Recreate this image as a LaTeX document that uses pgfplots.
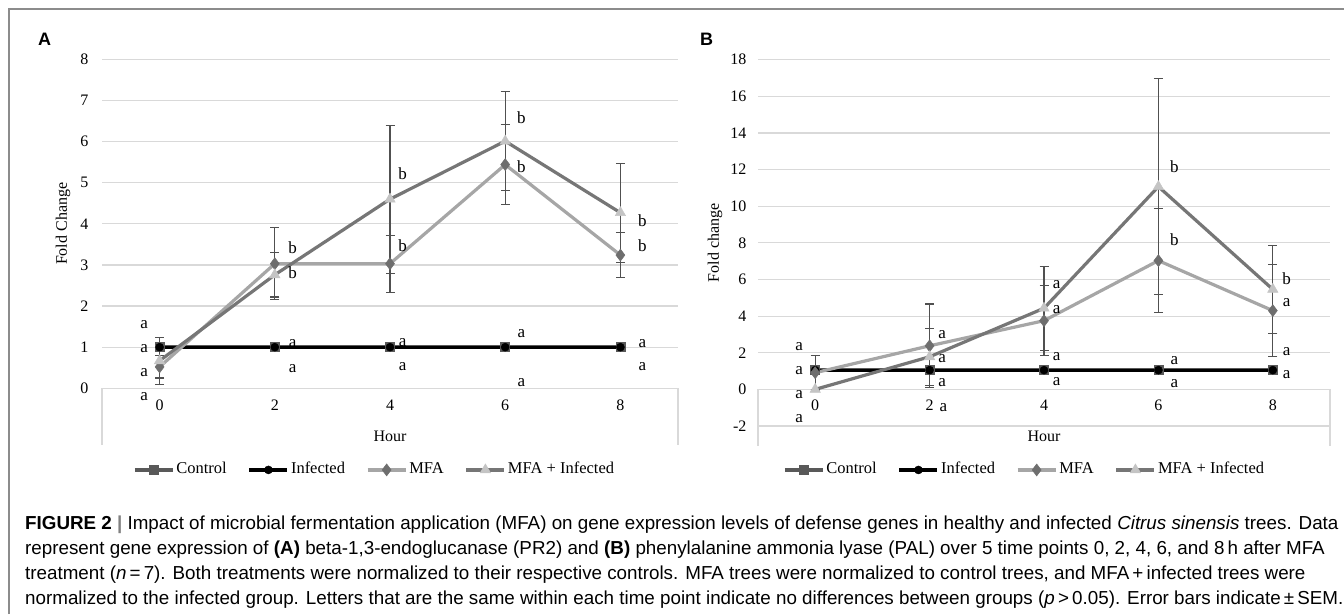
\documentclass[border=0pt]{standalone}
\usepackage{fontspec}
\setmainfont{Liberation Serif}
\newfontfamily\sans{Liberation Sans}
\usepackage{pgfplots}
\pgfplotsset{compat=1.18}

\definecolor{gridc}{HTML}{D9D9D9}
\definecolor{ctrl}{HTML}{595959}
\definecolor{mfaline}{HTML}{A6A6A6}
\definecolor{mfamark}{HTML}{6E6E6E}
\definecolor{mfiline}{HTML}{767676}
\definecolor{mfimark}{HTML}{C4C4C4}
\definecolor{errc}{HTML}{505050}
\definecolor{framec}{HTML}{8C8C8C}

\tikzset{lt/.style={font=\fontsize{17}{17}\selectfont, inner sep=0pt}}

\pgfplotsset{
  legend image code/.code={\draw[mark repeat=2,mark phase=2,#1] plot coordinates {(0pt,0pt) (19pt,0pt) (38pt,0pt)};},
  fc/.style={
    scale only axis, clip=false,
    xmin=-0.5, xmax=4.5, xtick={0,...,4}, xticklabels={0,2,4,6,8},
    axis line style={draw=none}, major tick length=0pt,
    ymajorgrids, grid style={draw=gridc, line width=1.2pt},
    /pgf/number format/assume math mode=true,
    tick label style={font=\fontsize{16}{16}\selectfont},
    label style={font=\fontsize{16}{16}\selectfont},
    legend style={draw=none, fill=none, legend columns=4, font=\fontsize{16.5}{16.5}\selectfont,
      inner sep=0pt, nodes={inner sep=0pt, text height=11pt, text depth=3pt},
      /tikz/every odd column/.append style={column sep=2pt},
      /tikz/every even column/.append style={column sep=21pt}},
  },
  ctrl/.style={draw=ctrl, line width=3.2pt, mark=square*, mark size=4.5pt, mark options={fill=ctrl, draw=ctrl, line width=0.5pt}},
  inf/.style={draw=black, line width=3.2pt, mark=*, mark size=4pt, mark options={fill=black, draw=black, line width=0.5pt}},
  mfa/.style={draw=mfaline, line width=3.2pt, mark=diamond*, mark size=6pt, mark options={fill=mfamark, draw=mfamark, line width=0.5pt}},
  mfi/.style={draw=mfiline, line width=3.2pt, mark=triangle*, mark size=6pt, mark options={fill=mfimark, draw=mfimark, line width=0.5pt}},
  eb/.style={error bars/.cd, y dir=both, y explicit,
    error bar style={draw=errc, line width=1.1pt},
    error mark options={rotate=90, draw=errc, line width=1.1pt, mark size=4.5pt}},
}

\begin{document}
\begin{tikzpicture}[x=1pt,y=1pt]
\useasboundingbox (0,0) rectangle (1344,-614);
\draw[framec, line width=1.3pt] (9,-614) -- (9,-9) -- (1344,-9);

\node[anchor=base west, inner sep=0pt, font=\sans\bfseries\fontsize{18}{18}\selectfont] at (38,-45) {A};
\node[anchor=base west, inner sep=0pt, font=\sans\bfseries\fontsize{18}{18}\selectfont] at (700,-45) {B};

% Panel A: PR2
\begin{axis}[fc, at={(102pt,-388.3pt)}, anchor=south west, width=576pt, height=329pt,
  ymin=0, ymax=8, ytick={0,...,8},
  xticklabel style={yshift=-7.7pt},
  yticklabel style={xshift=-10pt},
  xlabel=Hour, xlabel style={at={(rel axis cs:0.5,-0.147)}, anchor=center},
  ylabel=Fold Change, ylabel style={at={(rel axis cs:-0.0677,0.5)}, anchor=center},
  legend style={at={(rel axis cs:0.0538,-0.248)}, anchor=west}]
\draw[gridc, line width=1.2pt] (rel axis cs:0,0) -- ++(0pt,-57pt);
\draw[gridc, line width=1.2pt] (rel axis cs:1,0) -- ++(0pt,-57pt);
\addplot[ctrl] coordinates {(0,1.02) (1,1.02) (2,1.02) (3,1.02) (4,1.02)};
\addplot[inf] coordinates {(0,1.0) (1,1.0) (2,1.0) (3,1.0) (4,1.0)};
\addplot[mfa, eb] coordinates {(0,0.52)+-(0,0.27) (1,3.03)+-(0,0.87) (2,3.03)+-(0,0.69) (3,5.44)+-(0,0.98) (4,3.24)+-(0,0.545)};
\addplot[mfi, eb] coordinates {(0,0.67)+-(0,0.57) (1,2.76)+-(0,0.54) (2,4.60)+-(0,1.80) (3,6.01)+-(0,1.21) (4,4.27)+-(0,1.20)};
\legend{Control,Infected,MFA,MFA + Infected}
\node[lt] at (axis cs:-0.135,1.54) {a};
\node[lt] at (axis cs:-0.135,0.97) {a};
\node[lt] at (axis cs:-0.135,0.38) {a};
\node[lt] at (axis cs:-0.135,-0.2) {a};
\node[lt] at (axis cs:1.155,3.43) {b};
\node[lt] at (axis cs:1.155,2.82) {b};
\node[lt] at (axis cs:1.155,1.08) {a};
\node[lt] at (axis cs:1.155,0.49) {a};
\node[lt] at (axis cs:2.11,5.23) {b};
\node[lt] at (axis cs:2.11,3.46) {b};
\node[lt] at (axis cs:2.11,1.11) {a};
\node[lt] at (axis cs:2.11,0.54) {a};
\node[lt] at (axis cs:3.14,6.59) {b};
\node[lt] at (axis cs:3.14,5.39) {b};
\node[lt] at (axis cs:3.14,1.32) {a};
\node[lt] at (axis cs:3.14,0.14) {a};
\node[lt] at (axis cs:4.19,4.08) {b};
\node[lt] at (axis cs:4.19,3.46) {b};
\node[lt] at (axis cs:4.19,1.09) {a};
\node[lt] at (axis cs:4.19,0.54) {a};
\end{axis}

% Panel B: PAL
\begin{axis}[fc, at={(758pt,-426pt)}, anchor=south west, width=572pt, height=366.3pt,
  ymin=-2, ymax=18, ytick={-2,0,...,18},
  xticklabel style={yshift=30pt},
  yticklabel style={xshift=-8pt},
  xlabel=Hour, xlabel style={at={(rel axis cs:0.5,-0.029)}, anchor=center},
  ylabel=Fold change, ylabel style={at={(rel axis cs:-0.0752,0.5)}, anchor=center},
  legend style={at={(rel axis cs:0.0437,-0.120)}, anchor=west}]
\draw[gridc, line width=1.2pt] (axis cs:-0.5,0) -- ++(0pt,-57pt);
\draw[gridc, line width=1.2pt] (axis cs:4.5,0) -- ++(0pt,-57pt);
\addplot[ctrl] coordinates {(0,1.08) (1,1.08) (2,1.08) (3,1.08) (4,1.08)};
\addplot[inf] coordinates {(0,1.05) (1,1.05) (2,1.05) (3,1.05) (4,1.05)};
\addplot[mfa, eb] coordinates {(0,0.91)+-(0,0.95) (1,2.38)+-(0,2.28) (2,3.75)+-(0,1.90) (3,7.03)+-(0,2.85) (4,4.30)+-(0,2.50)};
\addplot[mfi, eb] coordinates {(0,0.0)+-(0,0.0) (1,1.78)+-(0,1.55) (2,4.43)+-(0,2.30) (3,11.07)+-(0,5.90) (4,5.46)+-(0,2.40)};
\legend{Control,Infected,MFA,MFA + Infected}
\node[lt] at (axis cs:-0.14,2.33) {a};
\node[lt] at (axis cs:-0.14,1.02) {a};
\node[lt] at (axis cs:-0.14,-0.26) {a};
\node[lt] at (axis cs:-0.14,-1.57) {a};
\node[lt] at (axis cs:1.11,2.97) {a};
\node[lt] at (axis cs:1.11,1.69) {a};
\node[lt] at (axis cs:1.11,0.36) {a};
\node[lt] at (axis cs:1.12,-0.97) {a};
\node[lt] at (axis cs:2.11,5.70) {a};
\node[lt] at (axis cs:2.11,4.37) {a};
\node[lt] at (axis cs:2.11,1.78) {a};
\node[lt] at (axis cs:2.11,0.42) {a};
\node[lt] at (axis cs:3.14,12.16) {b};
\node[lt] at (axis cs:3.14,8.20) {b};
\node[lt] at (axis cs:3.14,1.56) {a};
\node[lt] at (axis cs:3.14,0.33) {a};
\node[lt] at (axis cs:4.12,6.07) {b};
\node[lt] at (axis cs:4.12,4.73) {a};
\node[lt] at (axis cs:4.12,2.05) {a};
\node[lt] at (axis cs:4.12,0.78) {a};
\end{axis}

\node[anchor=base west, inner sep=0pt] at (25,-529.7) {\parbox[t]{1320pt}{\sans\fontsize{18.8}{25}\selectfont
\textbf{FIGURE 2} {\color{gray}\textbf{|}} Impact of microbial fermentation application (MFA) on gene expression levels of defense genes in healthy and infected \textit{Citrus sinensis} trees. Data\\
represent gene expression of \textbf{(A)} beta-1,3-endoglucanase (PR2) and \textbf{(B)} phenylalanine ammonia lyase (PAL) over 5 time points 0, 2, 4, 6, and 8\,h after MFA\\
treatment (\textit{n}\,=\,7). Both treatments were normalized to their respective controls. MFA trees were normalized to control trees, and MFA\,+\,infected trees were\\
normalized to the infected group. Letters that are the same within each time point indicate no differences between groups (\textit{p}\,>\,0.05). Error bars indicate\,±\,SEM.}};
\end{tikzpicture}
\end{document}
